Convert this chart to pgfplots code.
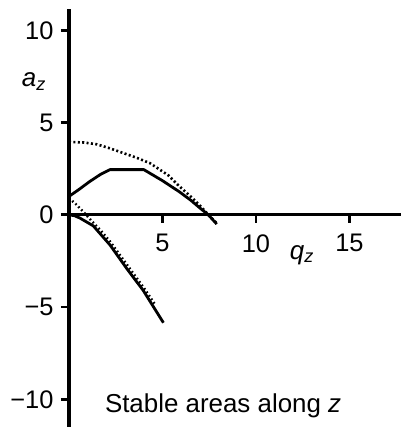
\documentclass[border=0pt]{standalone}
\usepackage{fontspec}
\setmainfont{Liberation Sans}
\usepackage{pgfplots}
\pgfplotsset{compat=1.18}
\begin{document}
\begin{tikzpicture}
\begin{axis}[
 x=18.7bp, y=18.45bp,
 xmin=0, xmax=17.75, ymin=-11.5, ymax=11.14,
 axis lines=middle,
 axis line style={-, line width=3.2bp},
 xtick={5,10,15}, xticklabels={5,10,15},
 ytick={-10,-5,0,5,10}, yticklabels={−10,−5,0,5,10},
 hide obscured x ticks=false, hide obscured y ticks=false,
 tick align=outside, major tick length=8bp,
 tick style={line width=2.8bp, black},
 ticklabel style={font=\fontsize{25.5}{30}\selectfont},
 xticklabel style={yshift=-8bp},
 yticklabel style={xshift=-4bp},
 clip=false,
]
\addplot[black, line width=2.8bp] coordinates {(0,1.0) (0.5,1.35) (1.1,1.8) (1.7,2.2) (2.2,2.45) (4.0,2.45) (5.0,1.85) (5.9,1.25) (6.5,0.8) (7.0,0.37) (7.45,0) (7.9,-0.5)};
\addplot[black, line width=2.6bp, dash pattern=on 2bp off 2.4bp] coordinates {(0,3.95) (0.8,3.92) (1.5,3.82) (2.2,3.6) (2.9,3.35) (3.6,3.1) (4.33,2.8) (5.3,2.15) (5.9,1.55) (6.5,1.0) (7.0,0.5) (7.45,0.0) (7.9,-0.45)};
\addplot[black, line width=2.8bp] coordinates {(0,0) (0.3,-0.05) (0.59,-0.18) (1.3,-0.6) (2.19,-1.63) (3.08,-2.9) (3.97,-4.1) (5.05,-5.85)};
\addplot[black, line width=2.4bp, dash pattern=on 1.6bp off 2.6bp] coordinates {(0,0.9) (0.35,0.6) (0.75,0.18) (1.2,-0.32) (1.7,-0.85) (2.2,-1.45) (3.1,-2.7) (4.0,-3.95) (4.6,-4.85)};
\node[anchor=base west, inner sep=0, font=\fontsize{26}{30}\selectfont] at (axis cs:-2.53,6.94) {\textit{a}\textsubscript{\textit{z}}};
\node[anchor=base west, inner sep=0, font=\fontsize{26}{30}\selectfont] at (axis cs:11.8,-2.4) {\textit{q}\textsubscript{\textit{z}}};
\node[anchor=base, inner sep=0, font=\fontsize{26}{30}\selectfont] at (axis cs:8.24,-10.73) {Stable areas along \textit{z}};
\end{axis}
\pgfresetboundingbox
\path (current axis.south west) ++(-69bp,0) rectangle ++(401bp,427bp);
\end{tikzpicture}
\end{document}
